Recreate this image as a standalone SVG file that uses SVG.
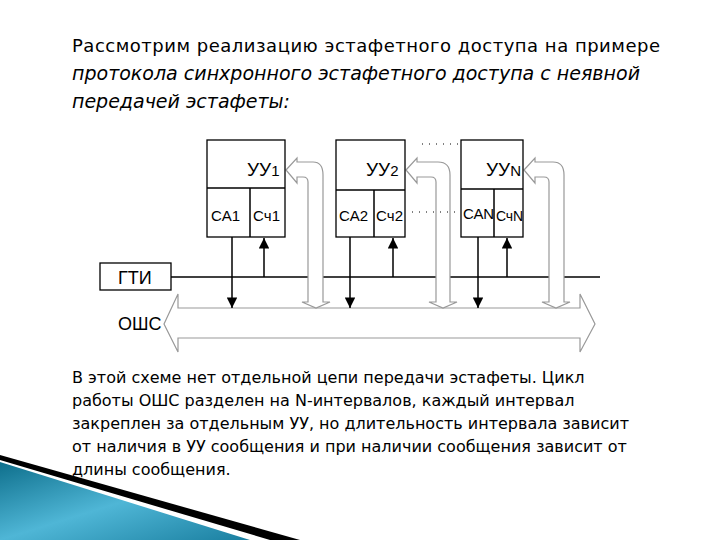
<svg xmlns="http://www.w3.org/2000/svg" width="720" height="540" viewBox="0 0 720 540">
<defs>
<style>
.t{font-family:"DejaVu Sans",sans-serif;font-size:16px;fill:#000}
.tt{font-size:18px}
.i{font-style:italic;font-size:19px}
.d{font-family:"Liberation Sans",Arial,sans-serif;fill:#000}
.box{fill:#fff;stroke:#000;stroke-width:1.3}
.h{fill:#fff;stroke:#999;stroke-width:1.2}
.ln{stroke:#000;stroke-width:1.5;fill:none}
</style>
<marker id="a" viewBox="0 0 10 10" refX="10" refY="5" markerWidth="9" markerHeight="7" orient="auto-start-reverse"><path d="M0,0L10,5L0,10z" fill="#000"/></marker>
<linearGradient id="g" x1="0" y1="0" x2="1" y2="1"><stop offset="0" stop-color="#0e6f8c"/><stop offset="0.5" stop-color="#4fb6d6"/><stop offset="1" stop-color="#1a7fa0"/></linearGradient>
</defs>
<rect width="720" height="540" fill="#fff"/>
<polygon points="0,462 250,540 0,540" fill="url(#g)"/>
<polygon points="0,455 300,540 270,540 0,460" fill="#000"/>
<text class="t tt" x="72" y="52" textLength="588">Рассмотрим реализацию эстафетного доступа на примере</text>
<text class="t i" x="72" y="80" textLength="568">протокола синхронного эстафетного доступа с неявной</text>
<text class="t i" x="72" y="108">передачей эстафеты:</text>
<g id="bus"><polygon class="h" points="164,324 178,294 178,308 580,308 580,294 595,324 580,352 580,338 178,338 178,352"/>
<text class="d" x="118" y="330" font-size="18">ОШС</text></g>
<g id="gti"><rect class="box" x="100" y="263" width="71" height="27"/><text class="d" x="118" y="284" font-size="18">ГТИ</text></g>
<g id="connectors">
<line class="ln" x1="171" y1="277" x2="600" y2="277"/>
<line class="ln" x1="232" y1="237" x2="232" y2="308" marker-end="url(#a)"/>
<line class="ln" x1="264" y1="277" x2="264" y2="238" marker-end="url(#a)"/>
<line class="ln" x1="350" y1="237" x2="350" y2="308" marker-end="url(#a)"/>
<line class="ln" x1="393" y1="277" x2="393" y2="238" marker-end="url(#a)"/>
<line class="ln" x1="478" y1="237" x2="478" y2="308" marker-end="url(#a)"/>
<line class="ln" x1="507" y1="277" x2="507" y2="238" marker-end="url(#a)"/>
<path class="h" d="M286,170 L297,158 L297,162 L313,162 Q323,162 323,175 L323,302 L330,302 L316,308 L302,302 L308,302 L308,182 Q308,177 303,177 L297,177 L297,183 Z"/>
<path class="h" d="M406,170 L417,158 L417,162 L438,162 Q450,162 450,175 L450,302 L457,302 L443,308 L429,302 L436,302 L436,182 Q436,177 431,177 L417,177 L417,183 Z"/>
<path class="h" d="M524,170 L535,158 L535,162 L553,162 Q564,162 564,175 L564,302 L570,302 L556,308 L542,302 L549,302 L549,182 Q549,177 544,177 L535,177 L535,183 Z"/>
<line x1="422" y1="144" x2="462" y2="144" stroke="#000" stroke-dasharray="1,6"/>
<line x1="412" y1="212" x2="462" y2="212" stroke="#000" stroke-dasharray="1,6"/>
</g>
<g id="n1"><rect class="box" x="207" y="140" width="78" height="97"/><line class="ln" x1="207" y1="188" x2="285" y2="188"/><line class="ln" x1="250" y1="188" x2="250" y2="237"/>
<text class="d" x="247" y="176" font-size="19">УУ<tspan font-size="15">1</tspan></text><text class="d" x="211" y="221" font-size="15">CA1</text><text class="d" x="253" y="221" font-size="15">Cч1</text></g>
<g id="n2"><rect class="box" x="336" y="140" width="69" height="97"/><line class="ln" x1="336" y1="190" x2="405" y2="190"/><line class="ln" x1="374" y1="190" x2="374" y2="237"/>
<text class="d" x="366" y="176" font-size="19">УУ<tspan font-size="15">2</tspan></text><text class="d" x="339" y="221" font-size="15">CA2</text><text class="d" x="376" y="221" font-size="15">Cч2</text></g>
<g id="nN"><rect class="box" x="461" y="140" width="62" height="97"/><line class="ln" x1="461" y1="189" x2="523" y2="189"/><line class="ln" x1="494" y1="189" x2="494" y2="237"/>
<text class="d" x="486" y="176" font-size="19">УУ<tspan font-size="15">N</tspan></text><text class="d" x="463" y="219" font-size="15" textLength="31">CAN</text><text class="d" x="496" y="221" font-size="14" textLength="27">CчN</text></g>
<text class="t" x="72" y="383">В этой схеме нет отдельной цепи передачи эстафеты. Цикл</text>
<text class="t" x="72" y="406">работы ОШС разделен на N-интервалов, каждый интервал</text>
<text class="t" x="72" y="429">закреплен за отдельным УУ, но длительность интервала зависит</text>
<text class="t" x="72" y="452">от наличия в УУ сообщения и при наличии сообщения зависит от</text>
<text class="t" x="72" y="475">длины сообщения.</text>
</svg>
